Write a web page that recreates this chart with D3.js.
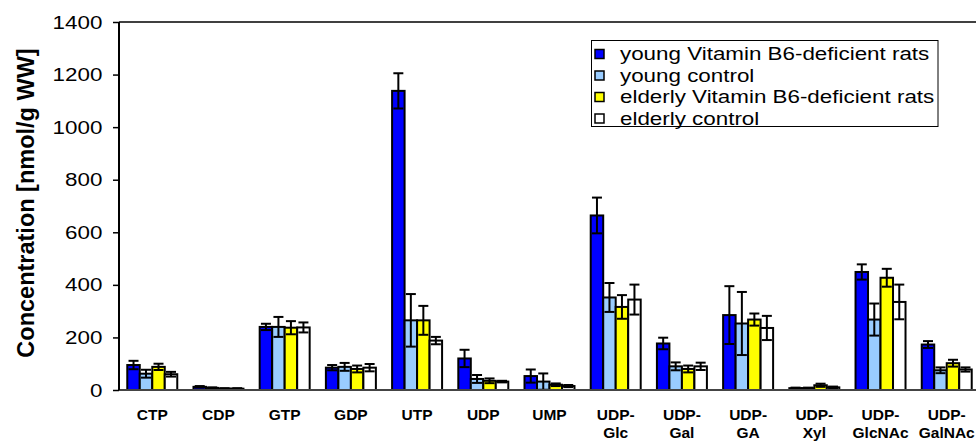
<!DOCTYPE html>
<meta charset="utf-8">
<style>
body { margin: 0; background: #fff; }
svg { display: block; font-family: "Liberation Sans", Arial, sans-serif; }
</style>
<svg id="svg" width="976" height="441"></svg>
<script src="https://cdn.jsdelivr.net/npm/d3@7"></script>
<script>
var categories = ["CTP", "CDP", "GTP", "GDP", "UTP", "UDP", "UMP", "UDP-Glc", "UDP-Gal", "UDP-GA", "UDP-Xyl", "UDP-GlcNAc", "UDP-GalNAc"];
var seriesNames = ["young Vitamin B6-deficient rats", "young control", "elderly Vitamin B6-deficient rats", "elderly control"];
var seriesColors = ["#0000ff", "#99ccff", "#ffff00", "#ffffff"];

var youngDef      = [95, 12, 240, 85, 1138, 120, 53, 664, 177, 285, 7, 449, 173];
var youngDefErr   = [16, 3, 12, 10, 67, 33, 25, 68, 22, 110, 2, 29, 13];
var youngCtl      = [62, 8, 240, 88, 265, 42, 32, 352, 90, 253, 7, 268, 75];
var youngCtlErr   = [15, 2, 38, 15, 100, 15, 31, 55, 15, 120, 2, 61, 11];
var elderlyDef    = [88, 5, 237, 80, 265, 35, 20, 316, 80, 268, 18, 427, 102];
var elderlyDefErr = [12, 2, 25, 13, 55, 9, 5, 45, 13, 23, 6, 34, 13];
var elderlyCtl    = [60, 5, 238, 85, 188, 32, 15, 344, 90, 236, 10, 335, 78];
var elderlyCtlErr = [9, 2, 19, 14, 14, 3, 4, 57, 14, 46, 3, 66, 8];

var yTicks = [0, 200, 400, 600, 800, 1000, 1200, 1400];

var values = [youngDef, youngCtl, elderlyDef, elderlyCtl];
var errors = [youngDefErr, youngCtlErr, elderlyDefErr, elderlyCtlErr];

var svg = d3.select("svg");
var plotLeft = 119, plotRight = 980, plotTop = 22, plotBottom = 390;

var x0 = d3.scaleBand().domain(categories).range([plotLeft, plotRight]).paddingInner(0.245).paddingOuter(0.125);
var x1 = d3.scaleBand().domain(d3.range(4)).range([0, x0.bandwidth()]);
var y = d3.scaleLinear().domain([0, 1400]).range([plotBottom, plotTop]);

// one row per bar
var rows = [];
categories.forEach(function(c, i) {
  for (var s = 0; s < 4; s++) rows.push({cat: c, s: s, v: values[s][i], e: errors[s][i]});
});

// plot frame top
svg.append("line").attr("x1", plotLeft).attr("x2", 976).attr("y1", plotTop).attr("y2", plotTop)
  .attr("stroke", "#000").attr("stroke-width", 1.5);

// bars
svg.append("g").selectAll("rect").data(rows).enter().append("rect")
  .attr("x", function(d) { return x0(d.cat) + x1(d.s); })
  .attr("y", function(d) { return y(d.v); })
  .attr("width", x1.bandwidth())
  .attr("height", function(d) { return y(0) - y(d.v); })
  .attr("fill", function(d) { return seriesColors[d.s]; })
  .attr("stroke", "#000").attr("stroke-width", 2);

// error bars
var eb = svg.append("g").attr("stroke", "#000").attr("stroke-width", 2).selectAll("g").data(rows).enter().append("g")
  .attr("transform", function(d) { return "translate(" + (x0(d.cat) + x1(d.s) + x1.bandwidth() / 2) + ",0)"; });
eb.append("line").attr("x1", 0).attr("x2", 0)
  .attr("y1", function(d) { return y(Math.max(0, d.v - d.e)); })
  .attr("y2", function(d) { return y(d.v + d.e); });
eb.append("line").attr("x1", -5).attr("x2", 5)
  .attr("y1", function(d) { return y(d.v + d.e); })
  .attr("y2", function(d) { return y(d.v + d.e); });
eb.append("line").attr("x1", -5).attr("x2", 5)
  .attr("y1", function(d) { return y(Math.max(0, d.v - d.e)); })
  .attr("y2", function(d) { return y(Math.max(0, d.v - d.e)); });

// x axis line
svg.append("line").attr("x1", plotLeft).attr("x2", plotRight).attr("y1", plotBottom).attr("y2", plotBottom)
  .attr("stroke", "#444").attr("stroke-width", 2);

// y axis
var yAxis = svg.append("g").attr("transform", "translate(" + plotLeft + ",0)")
  .call(d3.axisLeft(y).tickValues(yTicks).tickSize(6).tickPadding(0).tickFormat(d3.format("d")));
yAxis.select(".domain").attr("stroke", "#000").attr("stroke-width", 2).attr("d", "M0," + plotTop + "V" + plotBottom);
yAxis.selectAll(".tick line").attr("stroke", "#000").attr("stroke-width", 1.5);
yAxis.selectAll(".tick text")
  .attr("font-size", 17.5).attr("font-family", "Liberation Sans, Arial, sans-serif").attr("fill", "#000")
  .attr("x", -13).attr("dy", "0.35em")
  .attr("transform", "scale(1.28,1)");

// x labels
svg.append("g").selectAll("text").data(categories).enter().append("text")
  .attr("x", function(d) { return x0(d) + x0.bandwidth() / 2; })
  .attr("y", 419.5)
  .attr("text-anchor", "middle").attr("font-weight", "bold").attr("font-size", 15.5)
  .each(function(d) {
    var parts = d.indexOf("UDP-") === 0 && d.length > 4 ? ["UDP-", d.slice(4)] : [d];
    var t = d3.select(this);
    parts.forEach(function(p, i) {
      t.append("tspan").attr("x", t.attr("x")).attr("dy", i ? 18.5 : 0).text(p);
    });
  });

// y title
svg.append("text")
  .attr("transform", "translate(34,203) rotate(-90)")
  .attr("text-anchor", "middle").attr("font-weight", "bold").attr("font-size", 23.5)
  .text("Concentration [nmol/g WW]");

// legend
var lg = svg.append("g");
lg.append("rect").attr("x", 591.5).attr("y", 40.5).attr("width", 346.5).attr("height", 86)
  .attr("fill", "#fff").attr("stroke", "#000").attr("stroke-width", 1);
var li = lg.selectAll("g.item").data(seriesNames).enter().append("g").attr("class", "item")
  .attr("transform", function(d, i) { return "translate(0," + (54 + i * 21.5) + ")"; });
li.append("rect").attr("x", 595).attr("y", -4.5).attr("width", 9).attr("height", 9)
  .attr("fill", function(d, i) { return seriesColors[i]; })
  .attr("stroke", "#000").attr("stroke-width", 1.5);
li.append("text").attr("x", 620 / 1.28).attr("dy", "0.35em")
  .attr("transform", "scale(1.28,1)")
  .attr("font-size", 17.5).text(function(d) { return d; });
</script>
